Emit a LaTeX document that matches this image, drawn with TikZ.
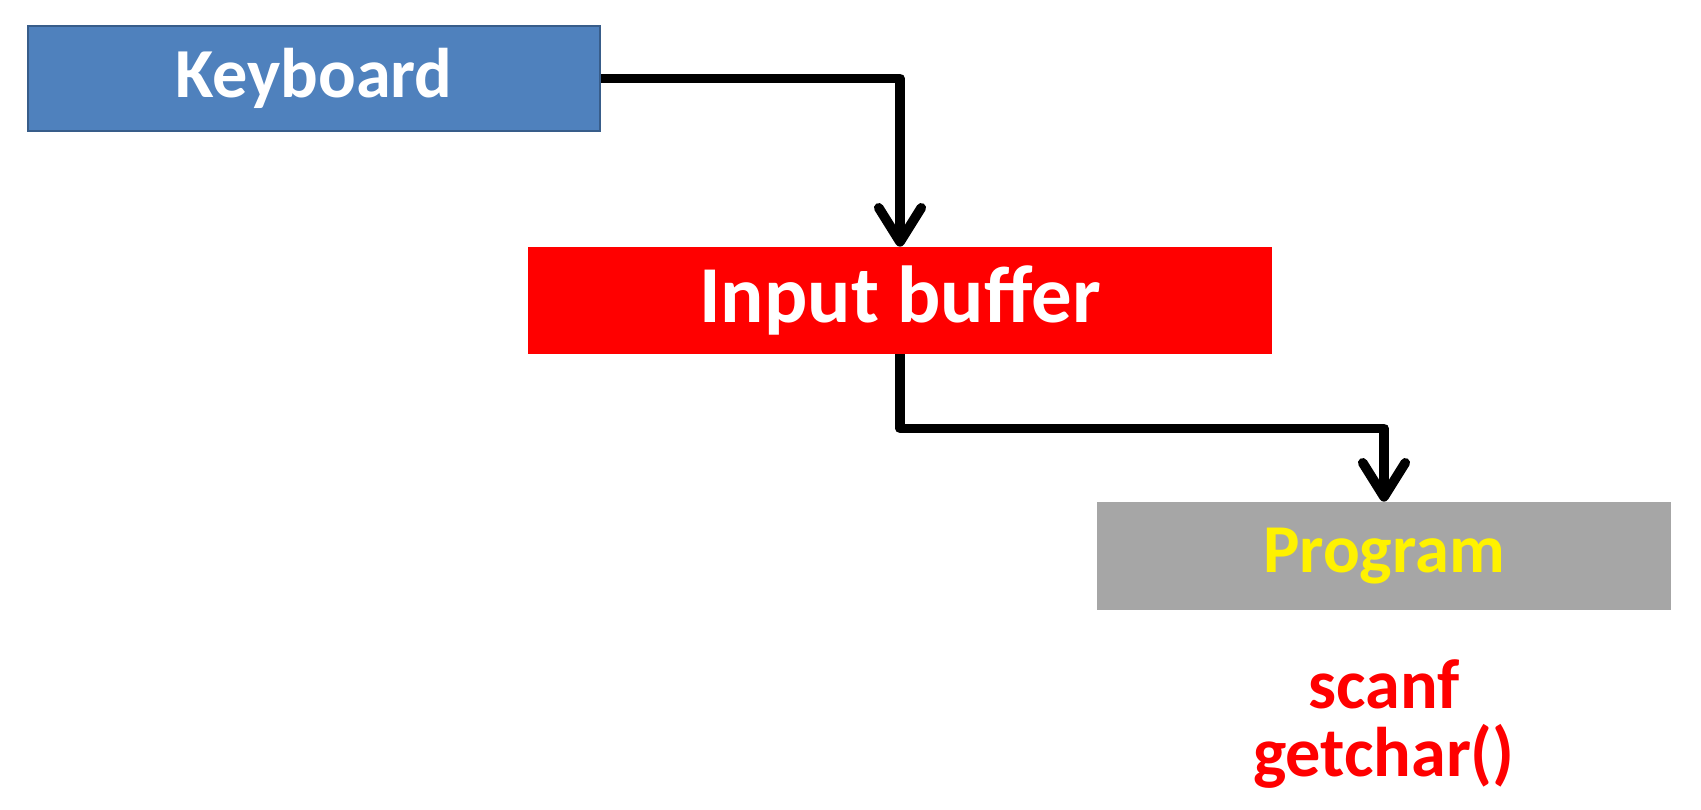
\documentclass[tikz,border=0pt]{standalone}
\usepackage{fontspec}
\setmainfont{Carlito}
\usetikzlibrary{arrows.meta}

\definecolor{keyblue}{RGB}{79,129,189}
\definecolor{keyedge}{RGB}{56,93,138}
\definecolor{progray}{RGB}{166,166,166}

\begin{document}
\begin{tikzpicture}[x=0.02cm,y=-0.02cm,
			key node/.style={rectangle,draw=keyedge,line width=1.5pt,fill=keyblue,text=white,minimum width=11.44cm,minimum height=2.1cm,font=\fontsize{40}{44}\selectfont\bfseries},
			buffer node/.style={rectangle,fill=red,text=white,minimum width=14.88cm,minimum height=2.14cm,font=\fontsize{46}{50}\selectfont\bfseries},
			program node/.style={rectangle,fill=progray,text=yellow,minimum width=11.48cm,minimum height=2.16cm,font=\fontsize{39}{43}\selectfont\bfseries},
			call text/.style={text=red,align=center,inner sep=0pt,font=\fontsize{40}{39}\selectfont\bfseries},
			flow/.style={line width=5.5pt,line join=round,-{Straight Barb[length=0.68cm,width=0.85cm,round]}}
			]
			
			\fill[white] (0,0) rectangle (1701,810);
			\useasboundingbox (0,0) rectangle (1701,810);
			
			\node[key node] at (314,78.5) (key) {Keyboard};
			\node[buffer node] at (900,300.5) (buf) {Input buffer};
			\node[program node] at (1384,556) (prog) {Program};
			\node[call text] at (1384,724) (calls) {scanf\\getchar()};
			
			\draw[flow] (key.east) -| (buf.north);
			\draw[flow] (buf.south) -- ++(0,74) -| (prog.north);
			\end{tikzpicture}
\end{document}
